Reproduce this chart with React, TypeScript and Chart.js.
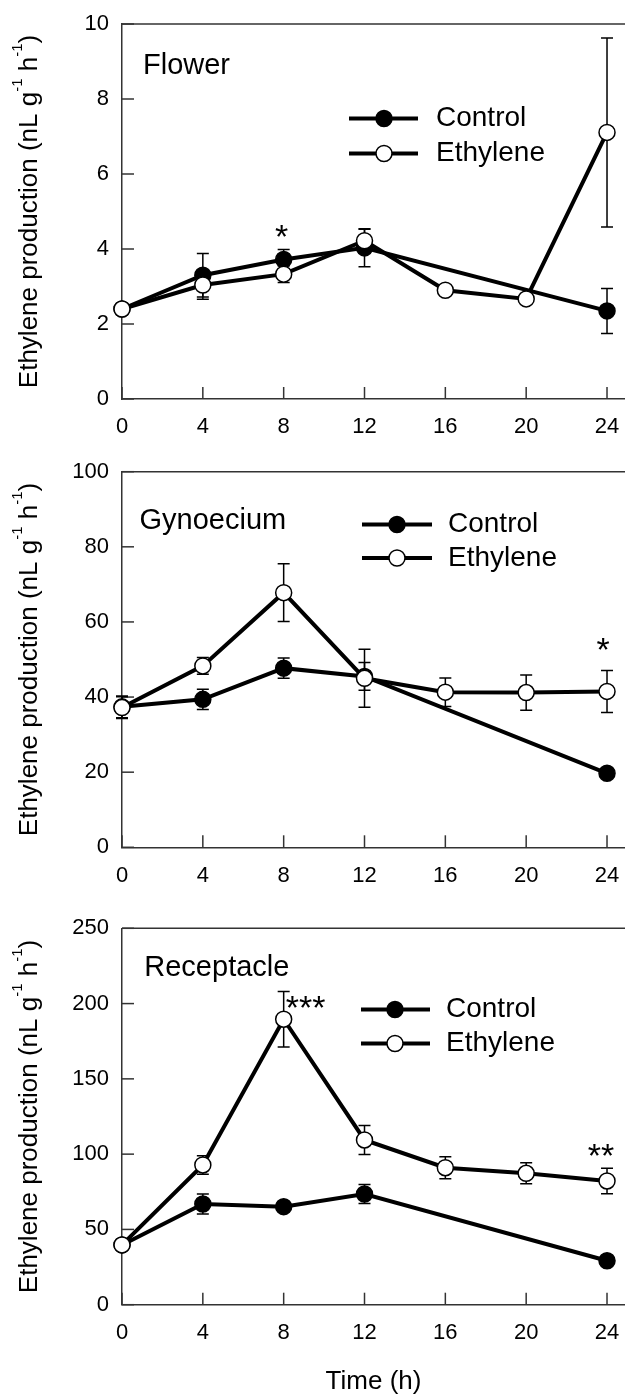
import React, { useEffect, useRef } from 'react';
import { Chart, registerables } from 'chart.js';

Chart.register(...registerables);

const FONT = "'Liberation Sans', Arial, Helvetica, sans-serif";

// ---- shared axis data ----
const times = [0, 4, 8, 12, 16, 20, 24];
const xTickValues = [0, 4, 8, 12, 16, 20, 24];
const seriesNames = ['Control', 'Ethylene'];
const yTitleParts = ['Ethylene production (nL g', '-1', ' h', '-1', ')'];
const xTitle = 'Time (h)';

// ---- Flower ----
const flowerControl = [2.4, 3.3, 3.72, 4.03, null, null, 2.35];
const flowerControlSE = [0.1, 0.58, 0.27, 0.5, null, null, 0.6];
const flowerEthylene = [2.4, 3.04, 3.33, 4.22, 2.9, 2.67, 7.11];
const flowerEthyleneSE = [0.1, 0.38, 0.22, 0.32, 0.1, 0.1, 2.52];
const flowerSig = ['', '', '*', '', '', '', ''];
const flowerYTicks = [0, 2, 4, 6, 8, 10];

// ---- Gynoecium ----
const gynControl = [37.4, 39.4, 47.7, 45.5, null, null, 19.7];
const gynControlSE = [2.9, 2.7, 2.7, 3.7, null, null, 1.0];
const gynEthylene = [37.2, 48.3, 67.8, 45.0, 41.3, 41.2, 41.5];
const gynEthyleneSE = [2.9, 2.2, 7.7, 7.7, 3.8, 4.7, 5.6];
const gynSig = ['', '', '', '', '', '', '*'];
const gynYTicks = [0, 20, 40, 60, 80, 100];

// ---- Receptacle ----
const recControl = [39.7, 66.9, 65.1, 73.5, null, null, 29.2];
const recControlSE = [2, 6.6, 3, 6.3, null, null, 2];
const recEthylene = [39.7, 92.8, 189.6, 109.4, 91.0, 87.3, 82.2];
const recEthyleneSE = [2, 6.2, 18.5, 9.7, 7.3, 7.0, 8.5];
const recSig = ['', '', '***', '', '', '', '**'];
const recYTicks = [0, 50, 100, 150, 200, 250];

type Panel = {
  name: string;
  control: (number | null)[];
  controlSE: (number | null)[];
  ethylene: (number | null)[];
  ethyleneSE: (number | null)[];
  sig: string[];
  yTicks: number[];
  canvasTop: number;
  canvasHeight: number;
  areaTop: number;
  areaBottom: number;
  label: { dx: number; dy: number };
  legend: { lineX1: number; lineX2: number; markerX: number; textX: number; rows: number[] };
  sigOffsets: Record<number, [number, number]>;
  showXTitle: boolean;
};

const panels: Panel[] = [
  {
    name: 'Flower',
    control: flowerControl,
    controlSE: flowerControlSE,
    ethylene: flowerEthylene,
    ethyleneSE: flowerEthyleneSE,
    sig: flowerSig,
    yTicks: flowerYTicks,
    canvasTop: 0,
    canvasHeight: 445,
    areaTop: 24,
    areaBottom: 399,
    label: { dx: 21, dy: 42 },
    legend: { lineX1: 227, lineX2: 296, markerX: 262, textX: 314, rows: [94.5, 129.5] },
    sigOffsets: { 8: [-2, 21] },
    showXTitle: false,
  },
  {
    name: 'Gynoecium',
    control: gynControl,
    controlSE: gynControlSE,
    ethylene: gynEthylene,
    ethyleneSE: gynEthyleneSE,
    sig: gynSig,
    yTicks: gynYTicks,
    canvasTop: 445,
    canvasHeight: 450,
    areaTop: 26.7,
    areaBottom: 402.3,
    label: { dx: 17.5, dy: 49 },
    legend: { lineX1: 240, lineX2: 310, markerX: 275, textX: 326, rows: [52.8, 86.3] },
    sigOffsets: { 24: [-4, 29] },
    showXTitle: false,
  },
  {
    name: 'Receptacle',
    control: recControl,
    controlSE: recControlSE,
    ethylene: recEthylene,
    ethyleneSE: recEthyleneSE,
    sig: recSig,
    yTicks: recYTicks,
    canvasTop: 895,
    canvasHeight: 500,
    areaTop: 33.3,
    areaBottom: 409.7,
    label: { dx: 22.3, dy: 39.4 },
    legend: { lineX1: 239, lineX2: 308, markerX: 273, textX: 324, rows: [81.2, 115.2] },
    sigOffsets: { 8: [22, -8], 24: [-6, 21] },
    showXTitle: true,
  },
];

const toPoints = (vals: (number | null)[], ses: (number | null)[]) =>
  times
    .map((t, i) => ({ x: t, y: vals[i], se: ses[i] }))
    .filter((p) => p.y !== null && p.y !== undefined);

const decorPlugin = {
  id: 'decor',
  beforeDatasetsDraw(chart: any, _args: any, opts: any) {
    const ctx = chart.ctx;
    const { left, right, top, bottom } = chart.chartArea;
    const xs = chart.scales.x;
    const ys = chart.scales.y;
    ctx.save();
    ctx.strokeStyle = '#333';
    ctx.lineWidth = 1.5;
    ctx.beginPath();
    ctx.moveTo(left, top);
    ctx.lineTo(right, top);
    ctx.stroke();
    xs.ticks.forEach((t: any) => {
      const px = xs.getPixelForValue(t.value);
      ctx.beginPath();
      ctx.moveTo(px, bottom);
      ctx.lineTo(px, bottom - 12);
      ctx.stroke();
    });
    ys.ticks.forEach((t: any) => {
      const py = ys.getPixelForValue(t.value);
      ctx.beginPath();
      ctx.moveTo(left, py);
      ctx.lineTo(left + 12, py);
      ctx.stroke();
    });
    // error bars
    ctx.strokeStyle = '#000';
    ctx.lineWidth = 1.5;
    chart.data.datasets.forEach((ds: any) => {
      ds.data.forEach((p: any) => {
        if (p.se === null || p.se === undefined) return;
        const px = xs.getPixelForValue(p.x);
        const y1 = ys.getPixelForValue(p.y - p.se);
        const y2 = ys.getPixelForValue(p.y + p.se);
        ctx.beginPath();
        ctx.moveTo(px, y1);
        ctx.lineTo(px, y2);
        ctx.moveTo(px - 6, y1);
        ctx.lineTo(px + 6, y1);
        ctx.moveTo(px - 6, y2);
        ctx.lineTo(px + 6, y2);
        ctx.stroke();
      });
    });
    ctx.restore();
  },
  afterDatasetsDraw(chart: any, _args: any, opts: any) {
    const ctx = chart.ctx;
    const { left, top, bottom } = chart.chartArea;
    const xs = chart.scales.x;
    const ys = chart.scales.y;
    ctx.save();
    ctx.fillStyle = '#000';
    // panel label
    ctx.font = `29px ${FONT}`;
    ctx.textAlign = 'left';
    ctx.textBaseline = 'middle';
    ctx.fillText(opts.name, left + opts.label.dx, top + opts.label.dy);

    // legend
    const lg = opts.legend;
    chart.data.datasets.forEach((ds: any, j: number) => {
      const y = top + lg.rows[j];
      ctx.strokeStyle = ds.borderColor;
      ctx.lineWidth = 4;
      ctx.beginPath();
      ctx.moveTo(left + lg.lineX1, y);
      ctx.lineTo(left + lg.lineX2, y);
      ctx.stroke();
      ctx.beginPath();
      ctx.arc(left + lg.markerX, y, ds.pointRadius, 0, Math.PI * 2);
      ctx.fillStyle = ds.pointBackgroundColor;
      ctx.fill();
      ctx.lineWidth = ds.pointBorderWidth;
      ctx.strokeStyle = ds.pointBorderColor;
      ctx.stroke();
      ctx.fillStyle = '#000';
      ctx.font = `28px ${FONT}`;
      ctx.textAlign = 'left';
      ctx.textBaseline = 'middle';
      ctx.fillText(ds.label, left + lg.textX, y);
    });

    // significance marks
    const sigSize = 34;
    ctx.font = `${sigSize}px ${FONT}`;
    ctx.textAlign = 'center';
    ctx.textBaseline = 'alphabetic';
    opts.sig.forEach((s: string, i: number) => {
      if (!s) return;
      const t = times[i];
      let maxTop = -Infinity;
      chart.data.datasets.forEach((ds: any) => {
        const p = ds.data.find((d: any) => d.x === t);
        if (p) maxTop = Math.max(maxTop, p.y + (p.se || 0));
      });
      const off = opts.sigOffsets[t] || [0, 21];
      const px = xs.getPixelForValue(t) + off[0];
      const py = ys.getPixelForValue(maxTop) - off[1] + 0.573 * sigSize;
      ctx.fillText(s, px, py);
    });

    // y axis title with superscripts
    const mainSize = 26;
    const supSize = 15;
    ctx.translate(27.5, (top + bottom) / 2);
    ctx.rotate(-Math.PI / 2);
    const parts = yTitleParts.map((t, k) => ({ t, sup: k % 2 === 1 }));
    let total = 0;
    const widths = parts.map((p) => {
      ctx.font = `${p.sup ? supSize : mainSize}px ${FONT}`;
      const w = ctx.measureText(p.t).width;
      total += w;
      return w;
    });
    let cx = -total / 2;
    ctx.textAlign = 'left';
    ctx.textBaseline = 'alphabetic';
    parts.forEach((p, k) => {
      ctx.font = `${p.sup ? supSize : mainSize}px ${FONT}`;
      ctx.fillText(p.t, cx, p.sup ? 9 - 15 : 9);
      cx += widths[k];
    });
    ctx.restore();
  },
};

function buildConfig(p: Panel): any {
  const xMax = 24.89;
  return {
    type: 'line',
    data: {
      datasets: [
        {
          label: seriesNames[0],
          data: toPoints(p.control, p.controlSE),
          borderColor: '#000',
          borderWidth: 4,
          pointRadius: 8,
          pointHoverRadius: 8,
          pointBackgroundColor: '#000',
          pointBorderColor: '#000',
          pointBorderWidth: 1.5,
          tension: 0,
          clip: false,
          order: 1,
        },
        {
          label: seriesNames[1],
          data: toPoints(p.ethylene, p.ethyleneSE),
          borderColor: '#000',
          borderWidth: 4,
          pointRadius: 8,
          pointHoverRadius: 8,
          pointBackgroundColor: '#fff',
          pointBorderColor: '#000',
          pointBorderWidth: 1.5,
          tension: 0,
          clip: false,
          order: 0,
        },
      ],
    },
    options: {
      responsive: false,
      animation: false,
      events: [],
      layout: { autoPadding: false, padding: { top: p.areaTop, left: 0, right: 0, bottom: 0 } },
      plugins: {
        legend: { display: false },
        tooltip: { enabled: false },
        title: { display: false },
        decor: p,
      },
      scales: {
        x: {
          type: 'linear',
          min: 0,
          max: xMax,
          afterBuildTicks: (s: any) => {
            s.ticks = xTickValues.map((v) => ({ value: v }));
          },
          afterFit: (s: any) => {
            s.height = p.canvasHeight - p.areaBottom;
            s.paddingLeft = 0;
            s.paddingRight = 0;
          },
          grid: { display: false, drawTicks: false },
          border: { display: true, color: '#333', width: 1.5 },
          ticks: {
            padding: 15,
            color: '#000',
            font: { family: FONT, size: 22 },
            maxRotation: 0,
            autoSkip: false,
          },
          title: {
            display: p.showXTitle,
            text: xTitle,
            color: '#000',
            font: { family: FONT, size: 26, lineHeight: 1 },
            padding: { top: 0, bottom: 0 },
          },
        },
        y: {
          type: 'linear',
          min: p.yTicks[0],
          max: p.yTicks[p.yTicks.length - 1],
          afterBuildTicks: (s: any) => {
            s.ticks = p.yTicks.map((v) => ({ value: v }));
          },
          afterFit: (s: any) => {
            s.width = 122;
            s.paddingTop = 0;
            s.paddingBottom = 0;
          },
          grid: { display: false, drawTicks: false },
          border: { display: true, color: '#333', width: 1.5 },
          ticks: {
            padding: 13,
            color: '#000',
            font: { family: FONT, size: 22 },
          },
        },
      },
    },
    plugins: [decorPlugin],
  };
}

export default function App() {
  const refs = useRef<(HTMLCanvasElement | null)[]>([]);

  useEffect(() => {
    document.body.style.margin = '0';
    document.body.style.overflow = 'hidden';
    const charts = panels.map((p, i) => {
      const el = refs.current[i];
      return el ? new Chart(el, buildConfig(p)) : null;
    });
    return () => {
      charts.forEach((c) => c && c.destroy());
    };
  }, []);

  return (
    <div style={{ position: 'absolute', left: 0, top: 0, width: 625, height: 1395, background: '#fff' }}>
      {panels.map((p, i) => (
        <canvas
          key={p.name}
          ref={(el) => {
            refs.current[i] = el;
          }}
          width={625}
          height={p.canvasHeight}
          style={{ position: 'absolute', left: 0, top: p.canvasTop, width: 625, height: p.canvasHeight }}
        />
      ))}
    </div>
  );
}
